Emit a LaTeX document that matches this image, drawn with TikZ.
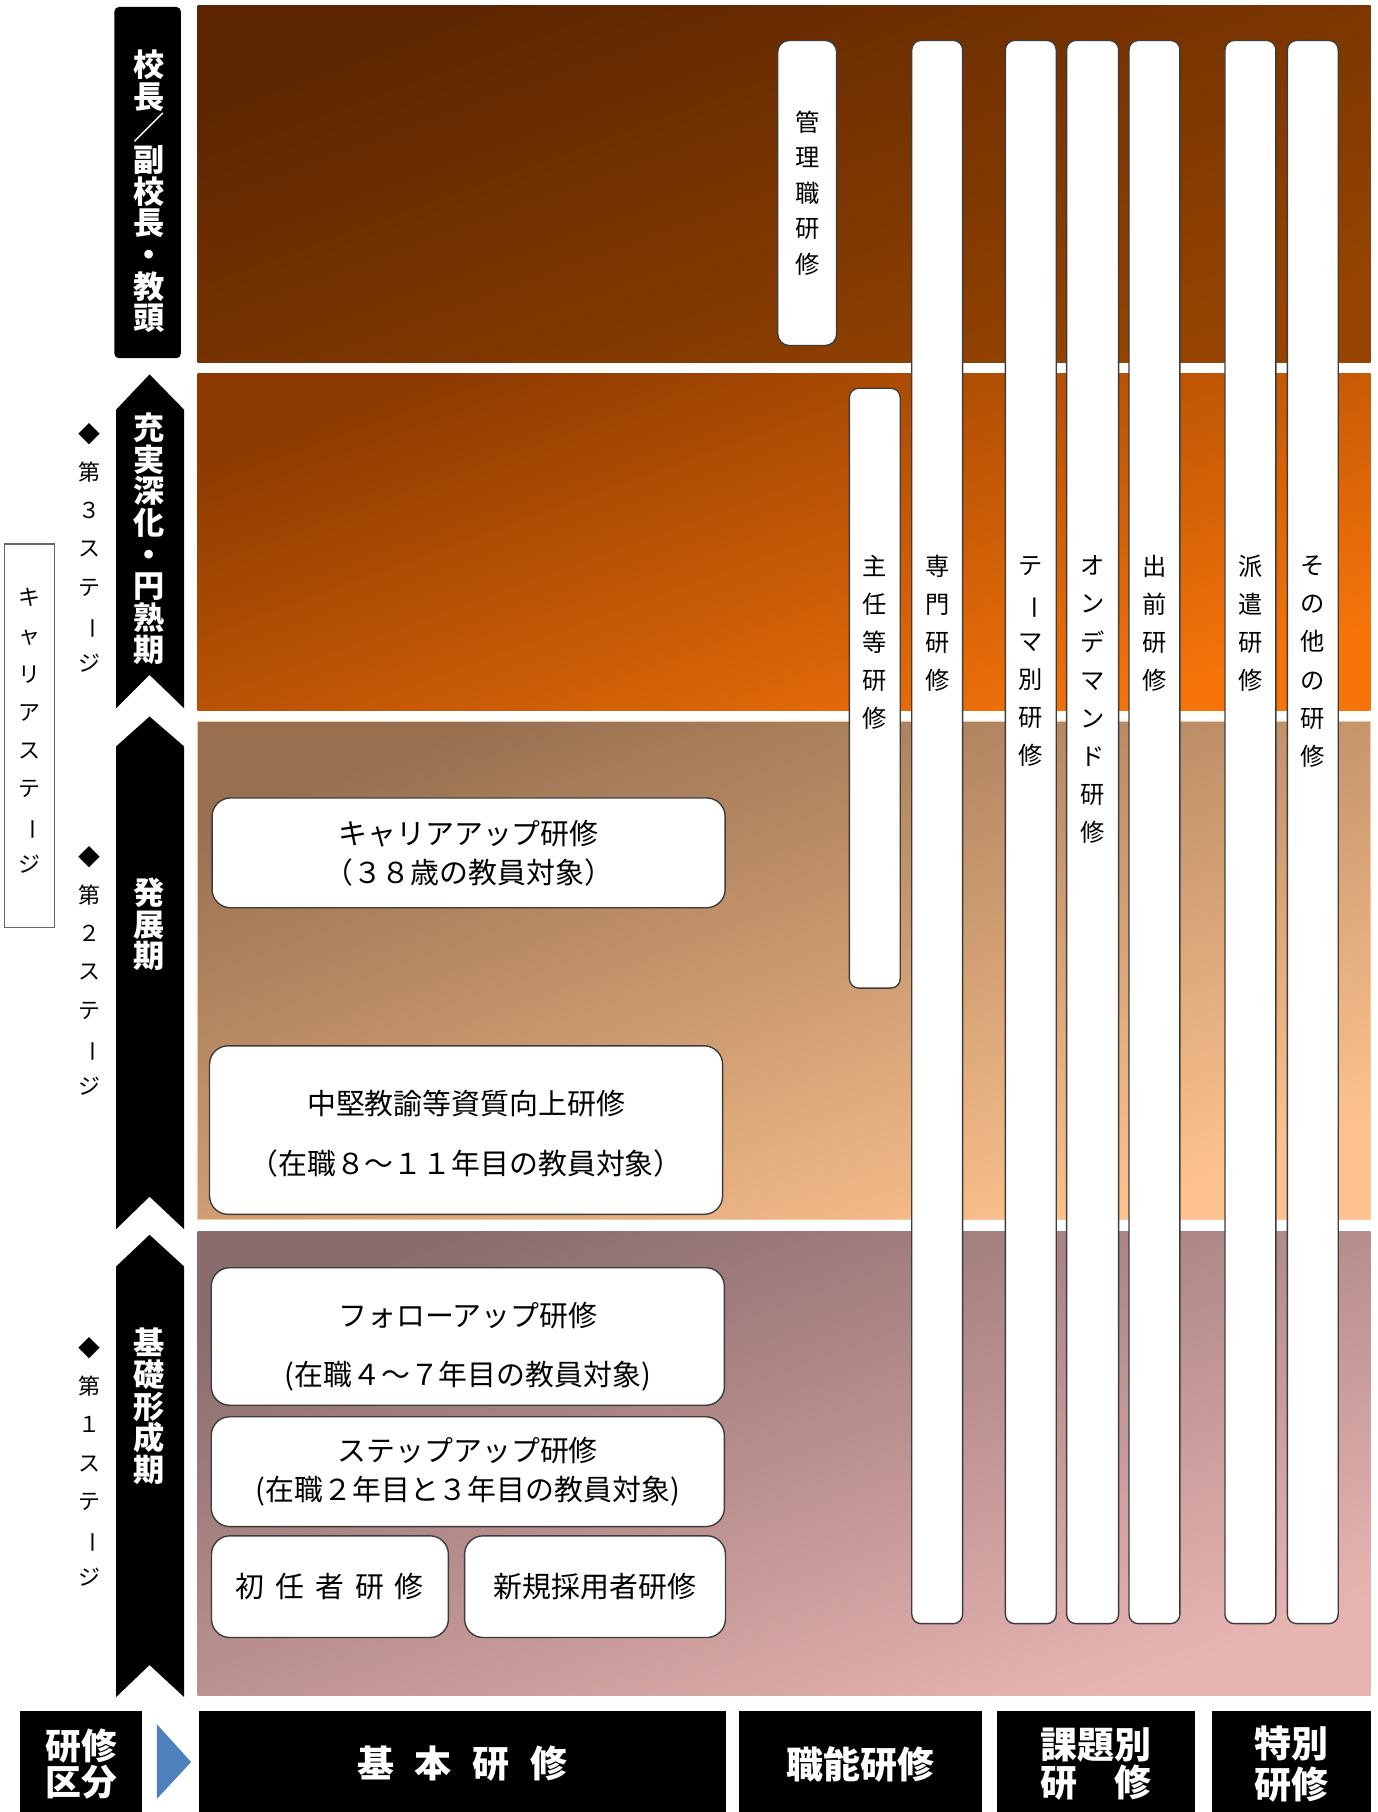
\documentclass[tikz,border=0pt]{standalone}
\usepackage{fontspec}
\setmainfont{Noto Sans CJK JP}
\usetikzlibrary{positioning}

\definecolor{bandAtop}{RGB}{92,37,0}
\definecolor{bandAbot}{RGB}{150,68,0}
\definecolor{bandBtop}{RGB}{140,58,0}
\definecolor{bandBbot}{RGB}{246,116,10}
\definecolor{bandCtop}{RGB}{152,112,80}
\definecolor{bandCbot}{RGB}{253,194,142}
\definecolor{bandDtop}{RGB}{138,108,108}
\definecolor{bandDbot}{RGB}{232,180,178}
\definecolor{peach}{RGB}{250,200,160}
\definecolor{boxline}{RGB}{60,60,60}
\definecolor{kubunblue}{RGB}{79,129,189}

\newcommand{\vlong}{\rotatebox[origin=c]{-90}{ー}}

\begin{document}
\begin{tikzpicture}[x=0.5pt, y=-0.5pt,
  every node/.style={inner sep=0pt, align=center},
  band/.style 2 args={top color=#1, bottom color=#2, shading angle=20},
  whitelbl/.style={text=white, font=\bfseries\fontsize{13.5}{13.7}\selectfont},
  stagelbl/.style={font=\fontsize{9.5}{16.5}\selectfont},
  tallbox/.style={draw=boxline, fill=white, line width=0.6pt, rounded corners=4pt, minimum width=22pt},
  talltext/.style={font=\fontsize{10.5}{16.5}\selectfont},
  widebox/.style={draw=boxline, fill=white, line width=0.6pt, rounded corners=8pt, minimum width=222pt},
  kubun/.style={fill=black, text=white, minimum height=45.5pt, font=\bfseries\fontsize{16}{16.5}\selectfont}
]
\useasboundingbox (0,0) rectangle (1192,1568);

% stage bands
\shade[band={bandAtop}{bandAbot}] (171,5) rectangle (1186,314);
\shade[band={bandBtop}{bandBbot}] (171,323.5) rectangle (1186,614.6);
\shade[band={bandCtop}{bandCbot}, draw=peach, line width=0.5pt] (171,624.3) rectangle (1186,1055.4);
\shade[band={bandDtop}{bandDbot}] (171,1065.8) rectangle (1186,1467.6);

% career stage column
\node[draw=black!60, line width=0.5pt, fill=white, minimum width=21.8pt, minimum height=166pt] (careerbox) at (25.7,636.7) {};
\node[stagelbl] (career) at (25.7,632.5) {キ\\ャ\\リ\\ア\\ス\\テ\\\vlong\\ジ};
\node[stagelbl] (stage3) at (77,474) {◆\\第\\３\\ス\\テ\\\vlong\\ジ};
\node[stagelbl] (stage2) at (77,840) {◆\\第\\２\\ス\\テ\\\vlong\\ジ};
\node[stagelbl] (stage1) at (77,1265) {◆\\第\\１\\ス\\テ\\\vlong\\ジ};

% black labels
\node[fill=black, rounded corners=2pt, minimum width=28.75pt, minimum height=152pt] (kochobox) at (127.75,158) {};
\node[whitelbl] (kocho) at (129,165.5) {校\\長\\／\\副\\校\\長\\・\\教\\頭};
\fill (100.4,354.6) -- (129.4,324) -- (159.4,354.6) -- (159.4,613) -- (129.4,584) -- (100.4,613) -- cycle;
\node[whitelbl] (juujitsu) at (129,466) {充\\実\\深\\化\\・\\円\\熟\\期};
\fill (100.4,646) -- (129.4,620) -- (159.4,646) -- (159.4,1063.7) -- (129.4,1035.5) -- (100.4,1063.7) -- cycle;
\node[whitelbl] (hatten) at (129,800) {発\\展\\期};
\fill (100.4,1096) -- (129.4,1068.5) -- (159.4,1096) -- (159.4,1468.6) -- (129.4,1440.8) -- (100.4,1468.6) -- cycle;
\node[whitelbl] (kiso) at (129,1217) {基\\礎\\形\\成\\期};

% vertical course boxes
\node[tallbox, minimum width=25.5pt, minimum height=132pt, rounded corners=5pt, font=\fontsize{10.5}{15.4}\selectfont] (kanri) at (698.5,167) {管\\理\\職\\研\\修};
\node[tallbox, minimum height=259.5pt] (shunin) at (757,595.5) {};
\node[talltext] (shunintext) at (757,556) {主\\任\\等\\研\\修};
\node[tallbox, minimum height=685pt] (senmon) at (811,720) {};
\node[talltext] (senmontext) at (811,539.5) {専\\門\\研\\修};
\node[tallbox, minimum height=685pt] (theme) at (892,720) {};
\node[talltext] (themetext) at (892,572.5) {テ\\\vlong\\マ\\別\\研\\修};
\node[tallbox, minimum width=22.5pt, minimum height=685pt] (ondemand) at (945.5,720) {};
\node[talltext] (ondemandtext) at (945.5,605.5) {オ\\ン\\デ\\マ\\ン\\ド\\研\\修};
\node[tallbox, minimum height=685pt] (demae) at (999,720) {};
\node[talltext] (demaetext) at (999,539.5) {出\\前\\研\\修};
\node[tallbox, minimum height=685pt] (haken) at (1082,720) {};
\node[talltext] (hakentext) at (1082,539.5) {派\\遣\\研\\修};
\node[tallbox, minimum height=685pt] (sonota) at (1136,720) {};
\node[talltext] (sonotatext) at (1136,572.5) {そ\\の\\他\\の\\研\\修};

% basic course boxes
\node[widebox, minimum height=47.5pt, font=\fontsize{12.5}{16.8}\selectfont] (careerup) at (405.5,738) {キャリアアップ研修\\（３８歳の教員対象）};
\node[widebox, minimum height=72.9pt] (chuken) at (403.3,977.9) {};
\node[font=\fontsize{12.5}{25.75}\selectfont] (chukentext) at (403.3,981) {中堅教諭等資質向上研修\\（在職８～１１年目の教員対象）};
\node[widebox, minimum height=59.5pt] (followup) at (404.8,1156.5) {};
\node[font=\fontsize{12.5}{25.5}\selectfont] (followuptext) at (404.8,1165) {フォローアップ研修\\(在職４～７年目の教員対象)};
\node[widebox, minimum height=47.5pt, font=\fontsize{12.5}{17}\selectfont] (stepup) at (404.8,1273.5) {ステップアップ研修\\(在職２年目と３年目の教員対象)};
\node[widebox, minimum width=102.5pt, minimum height=44pt, font=\fontsize{12.5}{17}\selectfont] (shonin) at (285.5,1373) {\spaceskip=4.7pt\relax 初 任 者 研 修};
\node[widebox, minimum width=112.85pt, minimum height=44pt, font=\fontsize{12.5}{17}\selectfont] (shinki) at (514.9,1373) {新規採用者研修};

% course categories
\node[kubun, minimum width=52.95pt, font=\bfseries\fontsize{15.5}{15.7}\selectfont] (kubunlbl) at (70.35,1526.5) {研修\\区分};
\fill[kubunblue] (135.7,1492) -- (165.4,1524.7) -- (135.7,1556.7) -- cycle;
\node[kubun, minimum width=228pt] (kihon) at (400,1526.5) {\spaceskip=9pt\relax 基 本 研 修};
\node[kubun, minimum width=105.1pt] (shokuno) at (744.3,1526.5) {職能研修};
\node[kubun, minimum width=86pt] (kadai) at (948.5,1526.5) {課題別\\研　修};
\node[kubun, minimum width=68.75pt, font=\bfseries\fontsize{16}{17.5}\selectfont] (tokubetsu) at (1117.25,1526.5) {特別\\研修};
\end{tikzpicture}
\end{document}
